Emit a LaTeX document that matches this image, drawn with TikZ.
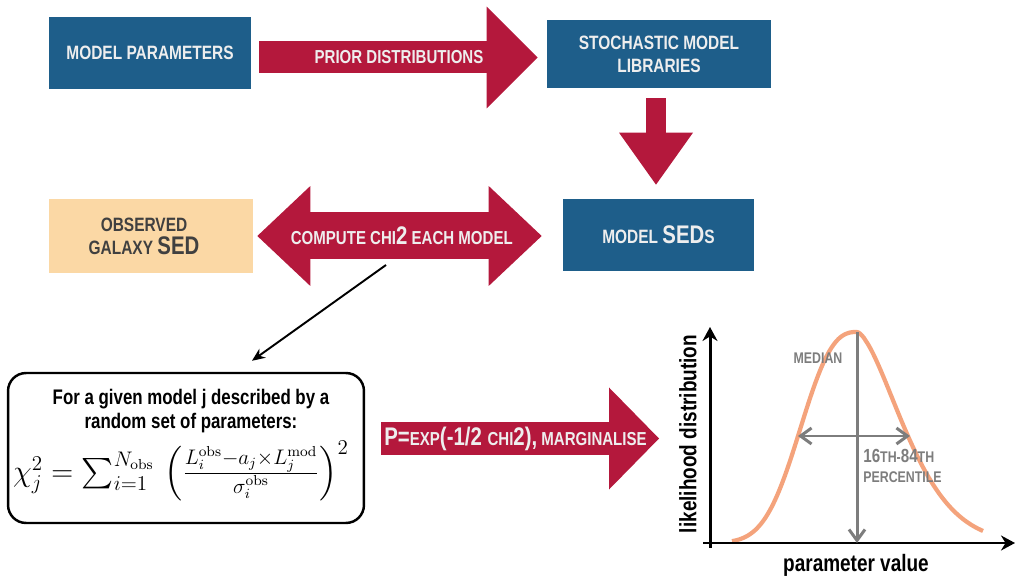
\documentclass[tikz,border=0pt]{standalone}
\usepackage{amsmath}
\usepackage{fontspec}
\newfontfamily\lblfont{Liberation Sans}[FakeStretch=0.8]
\usetikzlibrary{arrows.meta,calc}

\definecolor{boxblue}{RGB}{30,94,138}
\definecolor{arrowred}{RGB}{180,24,60}
\definecolor{sedpeach}{RGB}{251,216,165}
\definecolor{curveorange}{RGB}{244,163,124}
\definecolor{markgray}{RGB}{125,125,125}
\definecolor{labelwhite}{RGB}{238,238,238}

\newcommand{\lblbig}[1]{{\fontsize{14.5}{14.5}\selectfont #1}}

\tikzset{
  bluebox/.style={fill=boxblue, text=labelwhite, align=center, inner sep=0pt,
    font=\lblfont\bfseries\fontsize{11}{13}\selectfont},
  obsbox/.style={fill=sedpeach, text=black!75, align=center, inner sep=0pt,
    font=\lblfont\bfseries\fontsize{11}{13}\selectfont},
  bigarrow/.style={draw=arrowred},
  arrowlbl/.style={text=labelwhite, inner sep=0pt,
    font=\lblfont\bfseries\fontsize{10.7}{12.5}\selectfont},
  graylbl/.style={text=markgray, inner sep=0pt, align=left,
    font=\lblfont\bfseries\fontsize{8.8}{11}\selectfont},
  axislbl/.style={inner sep=0pt, font=\lblfont\bfseries\fontsize{13.5}{16}\selectfont},
  axisline/.style={line width=1.7pt, -{Stealth[length=0.28cm, width=0.3cm]}},
  grayarrow/.style={draw=markgray, line width=1.7pt}
}

\begin{document}
\begin{tikzpicture}[x=0.02cm, y=-0.02cm]
\useasboundingbox (0,0) rectangle (1018,580);

% Boxes
\node [bluebox, minimum width=4.04cm, minimum height=1.44cm] (par) at (150,53) {MODEL PARAMETERS};
\node [bluebox, minimum width=4.48cm, minimum height=1.36cm] (lib) at (659,54) {STOCHASTIC MODEL\\LIBRARIES};
\node [bluebox, minimum width=3.82cm, minimum height=1.44cm] (sed) at (658.5,235) {MODEL \lblbig{SED}S};
\node [obsbox, minimum width=4.08cm, minimum height=1.48cm] (obs) at (151,236) {};
\node [obsbox, fill=none] (obstext) at (144,236) {OBSERVED\\GALAXY \lblbig{SED}};

% Prior distributions
\draw [bigarrow, line width=0.64cm, -{Triangle[length=1.02cm, width=2.04cm, line width=0pt]},
  shorten <=0.16cm, shorten >=0.18cm]
  ([yshift=-0.09cm]par.east) -- ([yshift=-0.09cm]par.east -| lib.west)
  node [arrowlbl, midway] (prior) {PRIOR DISTRIBUTIONS};

% Libraries to SEDs
\draw [bigarrow, line width=0.4cm, -{Triangle[length=1.04cm, width=1.48cm, line width=0pt]},
  shorten <=0.2cm, shorten >=0.28cm]
  ([xshift=-0.06cm]lib.south) -- ([xshift=-0.06cm]lib.south |- sed.north);

% Chi2
\draw [bigarrow, line width=0.94cm,
  {Triangle[length=1.06cm, width=2cm, line width=0pt]}-{Triangle[length=1.06cm, width=2cm, line width=0pt]},
  shorten <=0.08cm, shorten >=0.42cm]
  (obs.east) -- (obs.east -| sed.west)
  node [arrowlbl, pos=0.48] (chi) {COMPUTE CHI\lblbig{2} EACH MODEL};

% Formula box
\node [draw, line width=1.4pt, rounded corners=0.36cm, minimum width=7.12cm, minimum height=3cm] (fbox) at (186,448) {};
\node [align=center, inner sep=0pt, font=\lblfont\bfseries\fontsize{12}{13.6}\selectfont] (given) at (191,411)
  {For a given model j described by a\\random set of parameters:};
\node [inner sep=0pt, font=\fontsize{16.5}{19}\selectfont] (chisq) at (181,471)
  {$\chi_j^2 = \sum_{i=1}^{N_{\mathrm{obs}}}\, \left(\frac{L_i^{\mathrm{obs}} - a_j\times L_j^{\mathrm{mod}}}{\sigma_i^{\mathrm{obs}}}\right)^2$};

\coordinate (hint) at (386,265);
\draw [line width=1.1pt, -{Stealth[length=0.26cm, width=0.22cm]}] (hint) -- ([xshift=1.32cm, yshift=0.22cm]fbox.north);

% Plot
\coordinate (org) at (710,543);
\coordinate (peak) at (857,332);
\coordinate (p16) at (798,436);
\coordinate (p84) at (910,436);

\draw [bigarrow, line width=0.66cm, -{Triangle[length=1cm, width=2.04cm, line width=0pt]},
  shorten <=0.32cm, shorten >=1.02cm]
  ([yshift=0.19cm]fbox.east) -- ([yshift=0.19cm]fbox.east -| org)
  node [arrowlbl, pos=0.436] (marg) {\lblbig{P=}EXP\lblbig{(-1/2 }CHI\lblbig{2),} MARGINALISE};

\draw [curveorange, line width=2.4pt, line join=round]
  plot [domain=732:983, samples=140]
  (\x, {543-211*exp(0-(((abs(\x-857)+0.01)/((\x<857)?68.5:65))^((\x<857)?2.59:1.59)))});

\draw [axisline] (703,543) -- (1015,543);
\draw [axisline] (710,548) -- (710,327);

\draw [grayarrow, -{Straight Barb[length=0.22cm, width=0.32cm]}] (peak) -- (peak |- org);
\draw [grayarrow, {Straight Barb[length=0.22cm, width=0.32cm]}-{Straight Barb[length=0.22cm, width=0.32cm]}] (p16) -- (p84);

\node [graylbl] (median) at (818,358) {MEDIAN};
\node [graylbl, anchor=west] (pct) at (863,466) {{\fontsize{10.8}{11}\selectfont 16}TH-{\fontsize{10.8}{11}\selectfont 84}TH\\PERCENTILE};

\node [axislbl, rotate=90] (ylab) at (688,434) {likelihood distribution};
\node [axislbl] (xlab) at (856,565) {parameter value};
\end{tikzpicture}
\end{document}
